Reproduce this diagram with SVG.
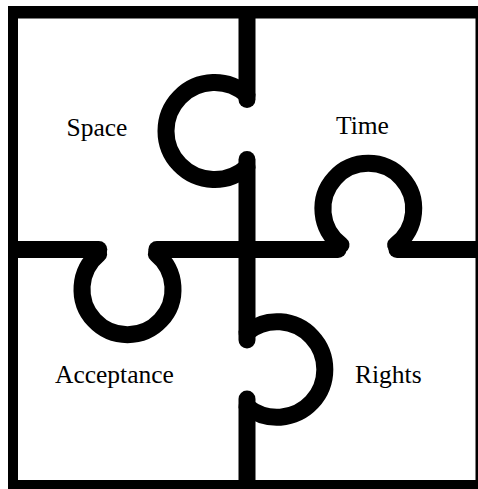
<svg xmlns="http://www.w3.org/2000/svg" width="478" height="489" viewBox="0 0 478 489">
  <style>
    .ln { fill: none; stroke: #000; stroke-width: 17; stroke-linecap: round; stroke-linejoin: round; }
    .knob { fill: none; stroke: #000; stroke-width: 17; stroke-linecap: round; }
    .lbl { font-family: "Liberation Serif", "Times New Roman", serif; font-size: 25.5px; fill: #000; }
  </style>
  <rect x="0" y="0" width="478" height="489" fill="#fff"/>
  <g id="frame">
    <path d="M8,6 H478 V489 H8 Z M18,18.5 V480 H475.5 V18.5 Z" fill="#000" fill-rule="evenodd"/>
  </g>
  <g id="connectors">
    <!-- vertical divider -->
    <path class="ln" d="M247,18 V99.5"/>
    <path class="ln" d="M247,159.5 V340"/>
    <path class="ln" d="M247,399 V489"/>
    <!-- horizontal divider -->
    <path class="ln" d="M18,249.5 H98.8"/>
    <path class="ln" d="M156.8,249.5 H338"/>
    <path class="ln" d="M397,249.5 H478"/>
  </g>
  <g id="space">
    <path class="knob" d="M247,95 A48.5,48.5 0 1 0 247,167"/>
    <text class="lbl" x="66.5" y="135.5">Space</text>
  </g>
  <g id="time">
    <path class="knob" d="M341,245 A45.4,45.4 0 1 1 395.6,245"/>
    <text class="lbl" x="336" y="133.5">Time</text>
  </g>
  <g id="acceptance">
    <path class="knob" d="M98.7,254 A45.5,45.5 0 1 0 156.3,254"/>
    <text class="lbl" x="55" y="382.7">Acceptance</text>
  </g>
  <g id="rights">
    <path class="knob" d="M247,332.3 A47.8,47.8 0 1 1 247,406.7"/>
    <text class="lbl" x="355" y="382.7">Rights</text>
  </g>
</svg>
